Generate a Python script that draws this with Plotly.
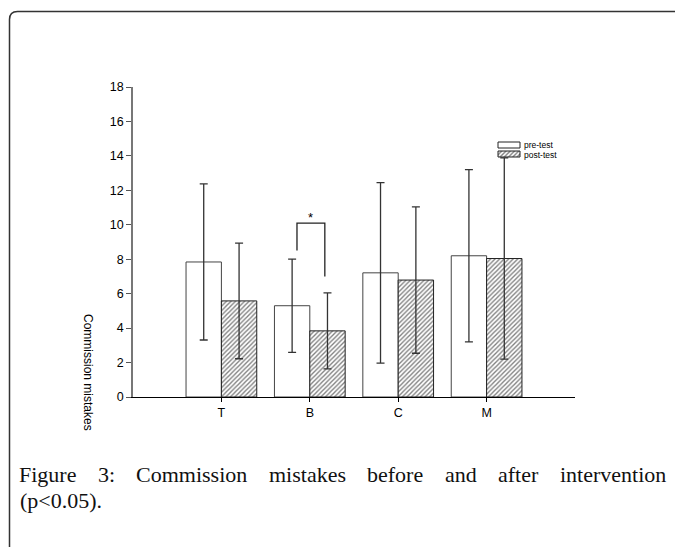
import plotly.graph_objects as go

# ---- data ----
categories = ["T", "B", "C", "M"]
pre_mean = [7.84, 5.30, 7.21, 8.20]
pre_sd = [4.53, 2.71, 5.24, 5.00]
post_mean = [5.58, 3.84, 6.79, 8.04]
post_sd = [3.36, 2.21, 4.25, 5.84]
series_names = ["pre-test", "post-test"]
y_ticks = [0, 2, 4, 6, 8, 10, 12, 14, 16, 18]
sig_category = "B"
sig_levels = [8.5, 10.1, 7.0]   # left foot, bar top, right foot
y_title = "Commission mistakes"
caption_line1 = ["Figure", "3:", "Commission", "mistakes", "before", "and", "after", "intervention"]
caption_line2 = "(p<0.05)."

# ---- layout geometry (pixels) ----
W, H = 675, 547
L, R, T, B = 133, 100, 87, 150
PW, PH = W - L - R, H - T - B


def px_x(px):
    return (px - L) / PW


def px_y(py):
    return (H - B - py) / PH


xpos = list(range(len(categories)))
FONT = "Liberation Sans, Arial, sans-serif"

fig = go.Figure()
fig.add_trace(go.Bar(
    x=xpos, y=pre_mean, name=series_names[0],
    marker=dict(color="white", line=dict(color="#444444", width=1)),
    error_y=dict(type="data", array=pre_sd, visible=True, color="#333333", thickness=1.3, width=4),
))
fig.add_trace(go.Bar(
    x=xpos, y=post_mean, name=series_names[1],
    marker=dict(color="white", line=dict(color="#222222", width=1),
                pattern=dict(shape="/", size=3.2, solidity=0.42, fgcolor="#000000", bgcolor="white")),
    error_y=dict(type="data", array=post_sd, visible=True, color="#333333", thickness=1.3, width=4),
))

# hatched legend swatch (overlay axes in paper fractions)
sx0, sx1, sy0, sy1 = px_x(498), px_x(520), px_y(157), px_y(151)
fig.add_trace(go.Scatter(
    x=[sx0, sx1, sx1, sx0, sx0], y=[sy0, sy0, sy1, sy1, sy0],
    xaxis="x2", yaxis="y2", mode="lines", fill="toself",
    line=dict(color="#222222", width=1),
    fillpattern=dict(shape="/", size=3, solidity=0.45, fgcolor="#000000", bgcolor="white"),
    fillcolor="white", hoverinfo="skip", showlegend=False,
))

fig.update_layout(
    width=W, height=H,
    margin=dict(l=L, r=R, t=T, b=B),
    paper_bgcolor="white", plot_bgcolor="white",
    barmode="group", bargap=0.2, bargroupgap=0,
    showlegend=False,
    font=dict(family=FONT, size=12, color="black"),
    xaxis=dict(range=[-1, 4], tickvals=xpos, ticktext=categories, showgrid=False, zeroline=False,
               showline=True, linecolor="black", linewidth=1, ticks="outside", ticklen=4,
               tickcolor="black", tickfont=dict(size=12.5)),
    yaxis=dict(range=[0, 18], tickvals=y_ticks, showgrid=False, zeroline=False,
               showline=True, linecolor="#777777", linewidth=1.5, ticks="outside", ticklen=5,
               tickcolor="#555555", tickfont=dict(size=12.5)),
    xaxis2=dict(overlaying="x", range=[0, 1], visible=False),
    yaxis2=dict(overlaying="y", range=[0, 1], visible=False),
)

# legend (manual)
fig.add_shape(type="rect", xref="paper", yref="paper",
              x0=px_x(498), x1=px_x(520), y0=px_y(148), y1=px_y(142),
              line=dict(color="#222222", width=1), fillcolor="white")
fig.add_annotation(xref="paper", yref="paper", x=px_x(523), y=px_y(144.5), text=series_names[0],
                   showarrow=False, xanchor="left", yanchor="middle", font=dict(size=8.5), borderpad=0)
fig.add_annotation(xref="paper", yref="paper", x=px_x(523), y=px_y(154.5), text=series_names[1],
                   showarrow=False, xanchor="left", yanchor="middle", font=dict(size=8.5), borderpad=0)

# significance bracket
ci = categories.index(sig_category)
bx0, bx1 = ci - 0.145, ci + 0.17
fig.add_shape(type="path", xref="x", yref="y",
              path=f"M{bx0},{sig_levels[0]} L{bx0},{sig_levels[1]} L{bx1},{sig_levels[1]} L{bx1},{sig_levels[2]}",
              line=dict(color="#222222", width=1.3))
fig.add_annotation(xref="x", yref="y", x=(bx0 + bx1) / 2, y=sig_levels[1] + 0.35, text="*",
                   showarrow=False, yanchor="middle", font=dict(size=13))

# y-axis title
fig.add_annotation(xref="paper", yref="paper", x=px_x(88), y=px_y(372), text=y_title,
                   showarrow=False, textangle=90, font=dict(size=12), xanchor="center", yanchor="middle")

# frame (rounded corner, clipped at right/bottom)
fx, fy, rr = 9.5, 11.5, 8
fig.add_shape(type="path", xref="paper", yref="paper",
              path=(f"M{px_x(fx)},{px_y(H + 5)} L{px_x(fx)},{px_y(fy + rr)} "
                    f"Q{px_x(fx)},{px_y(fy)} {px_x(fx + rr)},{px_y(fy)} L{px_x(W + 5)},{px_y(fy)}"),
              line=dict(color="#333333", width=1.5), layer="above")

# caption: line 1 justified between left and right margins (Times-metric widths)
CAP_SIZE = 22
TIMES_W = {"F": 556, "i": 278, "g": 500, "u": 500, "r": 333, "e": 444, "3": 500, ":": 278,
           "C": 667, "o": 500, "m": 778, "s": 389, "n": 500, "t": 278, "a": 444, "k": 500,
           "b": 500, "f": 333, "d": 500, "v": 500}


def word_w(w):
    return sum(TIMES_W.get(c, 500) for c in w) / 1000 * CAP_SIZE


cap_left, cap_right = 19, 666
widths = [word_w(w) for w in caption_line1]
gap = (cap_right - cap_left - sum(widths)) / (len(caption_line1) - 1)
CAP_FONT = dict(family="Liberation Serif, Times New Roman, serif", size=CAP_SIZE, color="#111111")
cx = cap_left
for w, ww in zip(caption_line1, widths):
    fig.add_annotation(xref="paper", yref="paper", x=px_x(cx), y=px_y(474), text=w,
                       showarrow=False, xanchor="left", yanchor="middle", font=CAP_FONT,
                       borderpad=0, xshift=-1)
    cx += ww + gap
fig.add_annotation(xref="paper", yref="paper", x=px_x(cap_left), y=px_y(500), text=caption_line2,
                   showarrow=False, xanchor="left", yanchor="middle", font=CAP_FONT, borderpad=0)

fig.write_html("out.html")
